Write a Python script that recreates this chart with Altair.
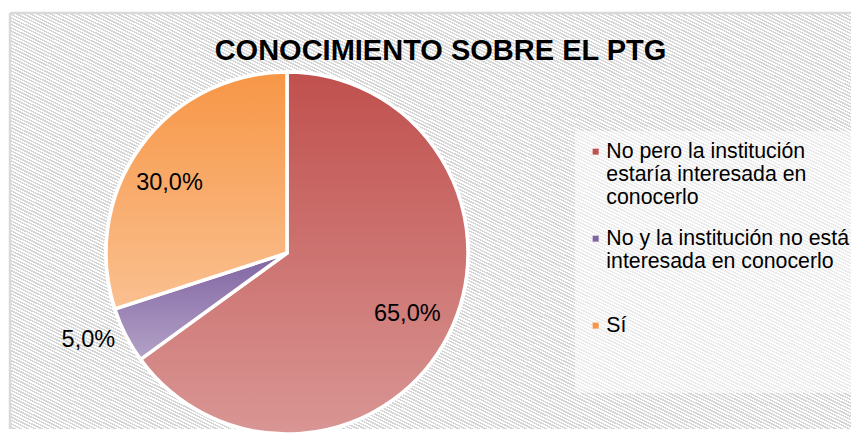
import altair as alt
import pandas as pd

# ---- data ----
categories = [
    "No pero la institución estaría interesada en conocerlo",
    "No y la institución no está interesada en conocerlo",
    "Sí",
]
values = [65.0, 5.0, 30.0]
order = [0, 1, 2]
legend_lines = [
    ["No pero la institución", "estaría interesada en", "conocerlo"],
    ["No y la institución no está", "interesada en conocerlo", ""],
    ["Sí"],
]
dark_colors = ["#C0504D", "#8064A2", "#F79646"]
light_colors = ["#D99694", "#B3A2C7", "#FAC090"]
title_text = "CONOCIMIENTO SOBRE EL PTG"

FONT = "Liberation Sans"
W, H = 841, 416
CX, CY, R = 277, 240, 181

df = pd.DataFrame({"categoria": categories, "valor": values, "orden": order})
one = pd.DataFrame({"k": [0]})

# hatch background built as a striped gradient
N = 250
stops = []
for k in range(N):
    a = k / N
    m = (k + 0.5) / N
    b = (k + 1) / N
    stops += [
        alt.GradientStop(offset=round(a, 6), color="#D6D6D6"),
        alt.GradientStop(offset=round(m, 6), color="#D6D6D6"),
        alt.GradientStop(offset=round(m, 6), color="#FFFFFF"),
        alt.GradientStop(offset=round(b, 6), color="#FFFFFF"),
    ]
hatch = alt.LinearGradient(gradient="linear", stops=stops, x1=1, y1=0, x2=0, y2=1)

bg = alt.Chart(one).mark_rect(fill=hatch).encode(
    x=alt.value(0), x2=alt.value("width"), y=alt.value(0), y2=alt.value("height")
)
frame_left = alt.Chart(one).mark_rule(color="#D9D9D9", strokeWidth=2.5).encode(
    x=alt.value(0), y=alt.value(0), y2=alt.value("height")
)
frame_top = alt.Chart(one).mark_rule(color="#D9D9D9", strokeWidth=2.5).encode(
    x=alt.value(0), x2=alt.value("width"), y=alt.value(0)
)
legend_box = alt.Chart(one).mark_rect(fill="white", opacity=0.5).encode(
    x=alt.value(565), x2=alt.value("width"), y=alt.value(118), y2=alt.value(380)
)

label_expr = ""
for cat, lines in zip(categories[:-1], legend_lines[:-1]):
    arr = "[" + ",".join("'" + s + "'" for s in lines) + "]"
    label_expr += f"datum.label == '{cat}' ? {arr} : "
label_expr += "[" + ",".join("'" + s + "'" for s in legend_lines[-1]) + "]"

base = alt.Chart(df).transform_window(
    cum="sum(valor)", frame=[None, 0], sort=[alt.SortField("orden")]
).transform_calculate(
    start="datum.cum - datum.valor",
    mid="datum.cum - datum.valor / 2",
)

theta_scale = alt.Scale(domain=[0, 100])

pie_legend = base.mark_arc(radius=R, stroke="white", strokeWidth=3.5).encode(
    theta=alt.Theta("start:Q", scale=theta_scale, stack=False),
    theta2="cum:Q",
    color=alt.Color(
        "categoria:N",
        scale=alt.Scale(domain=categories, range=dark_colors),
        legend=alt.Legend(
            title=None,
            orient="none",
            legendX=570,
            legendY=128,
            symbolType="square",
            symbolSize=36,
            symbolStrokeWidth=0,
            symbolOffset=5,
            labelFont=FONT,
            labelFontSize=21.3,
            labelColor="black",
            labelLimit=400,
            labelOffset=0,
            rowPadding=18,
            padding=0,
            labelExpr=label_expr,
        ),
    ),
    x=alt.value(CX),
    y=alt.value(CY),
)

slices = []
for cat, c0, c1 in zip(categories, dark_colors, light_colors):
    grad = alt.LinearGradient(
        gradient="linear",
        stops=[alt.GradientStop(offset=0, color=c0), alt.GradientStop(offset=1, color=c1)],
        x1=0, y1=0, x2=0, y2=1,
    )
    slices.append(
        base.transform_filter(alt.datum.categoria == cat)
        .mark_arc(radius=R, fill=grad, stroke="white", strokeWidth=3.5)
        .encode(
            theta=alt.Theta("start:Q", scale=theta_scale, stack=False),
            theta2="cum:Q",
            x=alt.value(CX),
            y=alt.value(CY),
        )
    )

labels = base.transform_calculate(
    rlab="datum.valor < 10 ? 217 : (datum.valor > 50 ? 135 : 137)",
    tlab="datum.mid + (datum.valor < 10 ? 0.9 : (datum.valor > 50 ? 0 : -1.4))",
    texto="replace(format(datum.valor / 100, '.1%'), '.', ',')",
).mark_text(font=FONT, fontSize=23.5, color="black", align="center", baseline="middle").encode(
    theta=alt.Theta("tlab:Q", scale=theta_scale, stack=False),
    radius=alt.Radius("rlab:Q", scale=None),
    text="texto:N",
    x=alt.value(CX),
    y=alt.value(CY),
)

chart = alt.layer(
    bg, frame_left, frame_top, legend_box, pie_legend, *slices, labels
).properties(
    width=W,
    height=H,
    padding={"left": 2, "top": 5, "right": 0, "bottom": 5},
    autosize=alt.AutoSizeParams(type="none"),
    title=alt.TitleParams(
        title_text,
        font=FONT,
        fontSize=29,
        fontWeight="bold",
        color="black",
        anchor="middle",
        offset=-77,
        dx=10,
        baseline="alphabetic",
    ),
).configure_view(stroke=None)

chart.save("out.html", embed_options={"renderer": "svg", "actions": False})
